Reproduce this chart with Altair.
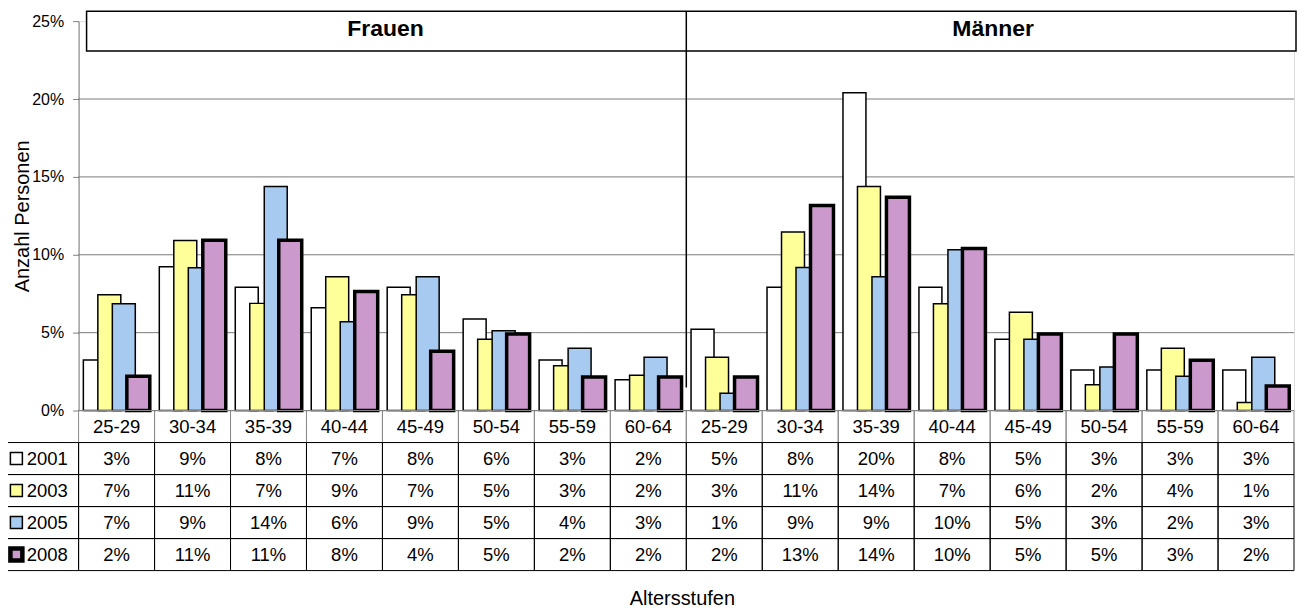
import altair as alt
import pandas as pd

# ---------------- data ----------------
ages = ["25-29", "30-34", "35-39", "40-44", "45-49", "50-54", "55-59", "60-64"]
groups = ["Frauen", "Männer"]
years = ["2001", "2003", "2005", "2008"]
x_title = "Altersstufen"
y_title = "Anzahl Personen"

# bar heights (percent), Frauen 8 values then Männer 8 values
v2001 = [3.25, 9.23, 7.91, 6.60, 7.91, 5.88, 3.25, 1.97, 5.22, 7.91, 20.41, 7.91, 4.58, 2.61, 2.61, 2.61]
v2003 = [7.44, 10.92, 6.88, 8.59, 7.44, 4.58, 2.87, 2.27, 3.42, 11.47, 14.38, 6.86, 6.31, 1.65, 4.00, 0.51]
v2005 = [6.86, 9.17, 14.38, 5.70, 8.59, 5.13, 4.00, 3.42, 1.11, 9.19, 8.59, 10.32, 4.58, 2.80, 2.20, 3.42]
v2008 = [2.20, 10.94, 10.94, 7.65, 3.80, 4.92, 2.16, 2.16, 2.16, 13.17, 13.70, 10.41, 4.92, 4.92, 3.23, 1.58]

# values printed in the data table (percent)
t2001 = [3, 9, 8, 7, 8, 6, 3, 2, 5, 8, 20, 8, 5, 3, 3, 3]
t2003 = [7, 11, 7, 9, 7, 5, 3, 2, 3, 11, 14, 7, 6, 2, 4, 1]
t2005 = [7, 9, 14, 6, 9, 5, 4, 3, 1, 9, 9, 10, 5, 3, 2, 3]
t2008 = [2, 11, 11, 8, 4, 5, 2, 2, 2, 13, 14, 10, 5, 5, 3, 2]

y_ticks = [0, 5, 10, 15, 20, 25]
grid_vals = [5, 10, 15, 20]
colors = ["#FFFFFF", "#FFFF99", "#A6CAF0", "#CC99CC"]

# ---------------- tables ----------------
keys = [f"{g}|{a}" for g in groups for a in ages]
labels = [a for g in groups for a in ages]
vals = {"2001": v2001, "2003": v2003, "2005": v2005, "2008": v2008}
tvals = {"2001": t2001, "2003": t2003, "2005": t2005, "2008": t2008}

rows = []
for y in years:  # year-major order: later series drawn on top
    for i, k in enumerate(keys):
        rows.append({"key": k, "year": y, "row": y, "value": vals[y][i],
                     "txt": f"{tvals[y][i]}%"})
bars_df = pd.DataFrame(rows)
hdr_df = pd.DataFrame({"key": keys, "label": labels, "row": ["hdr"] * len(keys)})
leg_df = pd.DataFrame({"row": years, "year": years})
grid_df = pd.DataFrame({"g": grid_vals})
zero_df = pd.DataFrame({"g": [0]})
one_df = pd.DataFrame({"a": [0]})

W = 1217.3
H = 390.0
ROWH = 32.06
FONT = "Liberation Sans"

xscale = alt.Scale(domain=keys, paddingInner=0, paddingOuter=0)
yscale = alt.Scale(domain=[0, 25])
rowscale = alt.Scale(domain=["hdr"] + years, range=[H, H + 5 * ROWH],
                     paddingInner=0, paddingOuter=0)
fillscale = alt.Scale(domain=years, range=colors)


def xk(axis=None):
    return alt.X("key:N", scale=xscale, axis=axis, title=None)


def yrow():
    return alt.Y("row:N", scale=rowscale, axis=None)


# gridlines
grid = alt.Chart(grid_df).mark_rule(color="#7a7a7a", strokeWidth=1).encode(
    y=alt.Y("g:Q", scale=yscale, axis=None),
    x=alt.value(0), x2=alt.value(W),
)

# header box with group names
box = alt.Chart(one_df).mark_rect(fill="white", stroke="black", strokeWidth=1.5).encode(
    x=alt.value(8), x2=alt.value(W + 2), y=alt.value(-10), y2=alt.value(30)
)
frauen = alt.Chart(one_df).mark_text(font=FONT, fontSize=23, fontWeight="bold",
                                     color="black", baseline="middle").encode(
    x=alt.value(W / 4 + 3), y=alt.value(8), text=alt.value(groups[0]))
maenner = alt.Chart(one_df).mark_text(font=FONT, fontSize=23, fontWeight="bold",
                                      color="black", baseline="middle").encode(
    x=alt.value(3 * W / 4 + 3), y=alt.value(8), text=alt.value(groups[1]))

divider = alt.Chart(one_df).mark_rule(color="black", strokeWidth=1.5).encode(
    x=alt.value(W / 2), y=alt.value(-10), y2=alt.value(367))

is2008 = alt.datum.year == years[-1]

# bars
bars = alt.Chart(bars_df).mark_bar(width=23, stroke="black").encode(
    x=xk(),
    xOffset=alt.XOffset("year:N", scale=alt.Scale(domain=years, paddingInner=0,
                                                  paddingOuter=0.62)),
    y=alt.Y("value:Q", scale=yscale, stack=None,
            axis=alt.Axis(values=y_ticks, labelExpr="datum.value + '%'",
                          grid=False, labelFontSize=16, labelFont=FONT,
                          labelColor="black", tickSize=6, labelPadding=9,
                          tickColor="#808080", domainColor="#808080",
                          title=y_title, titleFontSize=20,
                          titleFont=FONT, titleFontWeight="normal",
                          titleColor="black", titleX=-56, titleY=H / 2,
                          titleAngle=270, titleAlign="center",
                          titleBaseline="middle")),
    fill=alt.Fill("year:N", scale=fillscale, legend=None),
    strokeWidth=alt.condition(is2008, alt.value(3.5), alt.value(1.5)),
)

zero = alt.Chart(zero_df).mark_rule(color="black", strokeWidth=1).encode(
    y=alt.Y("g:Q", scale=yscale, axis=None), x=alt.value(0), x2=alt.value(W))

# data table
hdr_cells = alt.Chart(hdr_df).mark_rect(fill="white", fillOpacity=0, stroke="#8a8a8a",
                                        strokeWidth=1).encode(x=xk(), y=yrow())
body_cells = alt.Chart(bars_df).mark_rect(fill="white", fillOpacity=0, stroke="black",
                                          strokeWidth=1).encode(x=xk(), y=yrow())
leg_cells = alt.Chart(leg_df).mark_rect(fill="white", fillOpacity=0, stroke="black",
                                        strokeWidth=1).encode(
    x=alt.value(-73), x2=alt.value(0), y=yrow())
hdr_text = alt.Chart(hdr_df).mark_text(font=FONT, fontSize=18.5, color="black",
                                       baseline="middle").encode(
    x=xk(), y=yrow(), text="label:N")
cell_text = alt.Chart(bars_df).mark_text(font=FONT, fontSize=18.5, color="black",
                                         baseline="middle").encode(
    x=xk(), y=yrow(), text="txt:N")
leg_keys = alt.Chart(leg_df).mark_square(size=144, stroke="black", opacity=1).encode(
    x=alt.value(-62.3), y=yrow(),
    fill=alt.Fill("year:N", scale=fillscale, legend=None),
    strokeWidth=alt.condition(is2008, alt.value(4.5), alt.value(1.5)),
)
leg_text = alt.Chart(leg_df).mark_text(font=FONT, fontSize=18.5, color="black",
                                       align="left", baseline="middle").encode(
    x=alt.value(-52), y=yrow(), text="year:N")

xtitle = alt.Chart(one_df).mark_text(font=FONT, fontSize=20, color="black",
                                     baseline="middle").encode(
    x=alt.value(W / 2 - 4), y=alt.value(H + 189), text=alt.value(x_title))

chart = alt.layer(
    grid, box, frauen, maenner, divider, bars, zero,
    hdr_cells, body_cells, leg_cells, hdr_text, cell_text, leg_keys, leg_text,
    xtitle,
).resolve_scale(y="independent").properties(
    width=W, height=H,
    autosize=alt.AutoSizeParams(type="none"),
    padding={"left": 70.7, "top": 12.7, "right": 5, "bottom": 199},
).configure_view(strokeWidth=0).configure(font=FONT)

chart.save("out.html", embed_options={"renderer": "svg", "actions": False})
